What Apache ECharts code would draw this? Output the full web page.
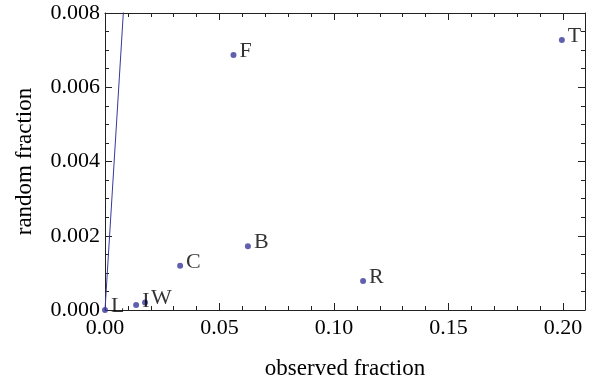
<!DOCTYPE html>
<html><head><meta charset="utf-8">
<script src="https://cdn.jsdelivr.net/npm/echarts@6/dist/echarts.min.js"></script>
<style>html,body{margin:0;padding:0;background:#fff}#c{width:597px;height:383px}</style>
</head><body><div id="c"></div>
<script>
const names = ['L','I','W','C','B','F','R','T'];
const observed = [0.0, 0.0136, 0.0175, 0.0328, 0.0624, 0.0561, 0.1127, 0.1995];
const random = [0.0, 0.000135, 0.0002, 0.00119, 0.00172, 0.00687, 0.00078, 0.00727];
const refLineX = [0, 0.0085];
const refLineY = [0, 0.0085];

const font = 'Liberation Serif';
const axisCol = '#222';
const dotCol = '#38389c';
const pts = names.map((n,i)=>({value:[observed[i], random[i]], name:n}));
const chart = echarts.init(document.getElementById('c'));
const common = {
  axisLine:{show:true,onZero:false,lineStyle:{color:axisCol,width:1}},
  axisTick:{show:true,inside:true,length:7,lineStyle:{color:axisCol}},
  splitLine:{show:false}
};
const mx = {minorTick:{show:true,splitNumber:5,length:4,lineStyle:{color:axisCol}}};
const my = {minorTick:{show:true,splitNumber:4,length:4,lineStyle:{color:axisCol}}};
chart.setOption({
  animation:false,
  grid:{left:105,right:12,top:13,bottom:73,containLabel:false,outerBoundsMode:'none'},
  xAxis:[
    Object.assign({type:'value',min:0,max:0.2096,interval:0.05,position:'bottom',
      axisLabel:{fontFamily:font,fontSize:22,color:'#000',margin:7,
        formatter:v=>v.toFixed(2), showMaxLabel:false},
      name:'observed fraction',nameLocation:'middle',nameGap:47,
      nameTextStyle:{fontFamily:font,fontSize:23,color:'#000'}},common,mx),
    Object.assign({type:'value',min:0,max:0.2096,interval:0.05,position:'top',
      axisLabel:{show:false}},common,mx)
  ],
  yAxis:[
    Object.assign({type:'value',min:0,max:0.008,interval:0.002,position:'left',
      axisLabel:{fontFamily:font,fontSize:22,color:'#000',margin:5,
        formatter:v=>v.toFixed(3)},
      name:'random fraction',nameLocation:'middle',nameGap:69,
      nameTextStyle:{fontFamily:font,fontSize:23,color:'#000'}},common,my),
    Object.assign({type:'value',min:0,max:0.008,interval:0.002,position:'right',
      axisLabel:{show:false}},common,my)
  ],
  series:[
    {type:'line',data:refLineX.map((x,i)=>[x,refLineY[i]]),symbol:'none',
      lineStyle:{color:dotCol,width:1},clip:true,silent:true},
    {type:'scatter',data:pts,symbolSize:6,itemStyle:{color:dotCol},
      label:{show:true,position:'right',distance:3,offset:[0,-4],formatter:p=>p.name,
        fontFamily:font,fontSize:22,color:'#000'}}
  ]
});
</script></body></html>
